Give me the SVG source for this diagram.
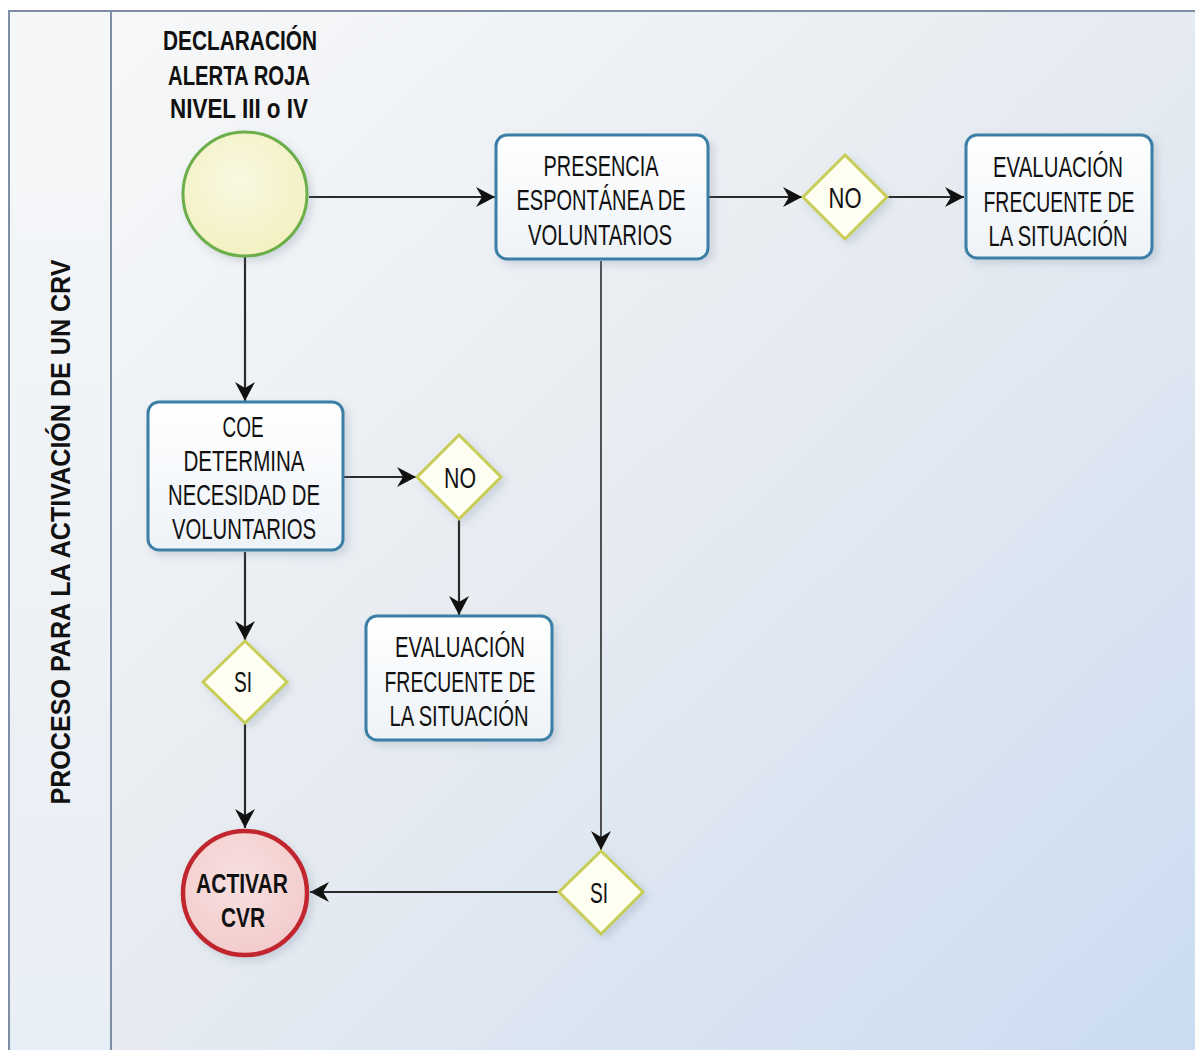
<svg xmlns="http://www.w3.org/2000/svg" width="1195" height="1050" viewBox="0 0 1195 1050">
<defs>
<linearGradient id="bg" x1="0" y1="0" x2="1" y2="1">
<stop offset="0" stop-color="#f7f8f9"/>
<stop offset="0.5" stop-color="#e6ebf1"/>
<stop offset="1" stop-color="#cbdcf2"/>
</linearGradient>
<linearGradient id="lane" x1="0" y1="0" x2="0" y2="1">
<stop offset="0" stop-color="#f6f7f8"/>
<stop offset="1" stop-color="#e8eef5"/>
</linearGradient>
<linearGradient id="box" x1="0" y1="0" x2="0" y2="1">
<stop offset="0" stop-color="#ffffff"/>
<stop offset="1" stop-color="#eef3f8"/>
</linearGradient>
<radialGradient id="start" cx="0.45" cy="0.4" r="0.6">
<stop offset="0" stop-color="#f9f8e2"/>
<stop offset="1" stop-color="#f3f1c2"/>
</radialGradient>
<radialGradient id="end" cx="0.45" cy="0.4" r="0.6">
<stop offset="0" stop-color="#f8e0e0"/>
<stop offset="1" stop-color="#f3cccc"/>
</radialGradient>
<filter id="sh" x="-20%" y="-20%" width="150%" height="150%">
<feDropShadow dx="4" dy="4" stdDeviation="4" flood-color="#6b7c95" flood-opacity="0.25"/>
</filter>
<marker id="arr" markerUnits="userSpaceOnUse" markerWidth="22" markerHeight="22" refX="19" refY="11" orient="auto">
<path d="M0,1 L19,11 L0,21 L6,11 Z" fill="#111"/>
</marker>
<style>
.lane{fill:none;stroke:#7d8ea6;stroke-width:2}
.task{fill:url(#box);stroke:#3a7fa6;stroke-width:3}
.gw{fill:#fffef2;stroke:#c8cd55;stroke-width:3}
.t{font-family:"Liberation Sans",Arial,sans-serif;font-size:30px;fill:#111;text-anchor:middle}
.b{font-family:"Liberation Sans",Arial,sans-serif;font-size:27px;font-weight:bold;fill:#111;text-anchor:middle}
.c{fill:none;stroke:#2a2a2a;stroke-width:2.2;marker-end:url(#arr)}
</style>
</defs>
<rect x="0" y="0" width="1195" height="1050" fill="#ffffff"/>
<rect x="111" y="11" width="1084" height="1039" fill="url(#bg)"/>
<rect x="9" y="11" width="102" height="1039" fill="url(#lane)"/>
<g id="lane-frame">
<path class="lane" d="M9,1050 L9,11 L1195,11"/>
<line class="lane" x1="111" y1="11" x2="111" y2="1050"/>
<text class="b" transform="translate(70,532) rotate(-90)" textLength="545" lengthAdjust="spacingAndGlyphs">PROCESO PARA LA ACTIVACIÓN DE UN CRV</text>
</g>
<g id="connectors">
<line class="c" x1="309" y1="197" x2="495" y2="197"/>
<line class="c" x1="709" y1="197" x2="802" y2="197"/>
<line class="c" x1="888" y1="197" x2="964" y2="197"/>
<line class="c" x1="245" y1="257" x2="245" y2="401"/>
<line class="c" x1="344" y1="477" x2="416" y2="477"/>
<line class="c" x1="459" y1="520" x2="459" y2="615"/>
<line class="c" x1="245" y1="552" x2="245" y2="640"/>
<line class="c" x1="245" y1="724" x2="245" y2="828"/>
<line class="c" style="stroke-width:1.6" x1="601" y1="261" x2="601" y2="850"/>
<line class="c" x1="558" y1="892" x2="310" y2="892"/>
</g>
<g id="start-event">
<circle cx="245" cy="194" r="62" fill="url(#start)" stroke="#6cae48" stroke-width="3" filter="url(#sh)"/>
<text class="b" x="240" y="50" textLength="154" lengthAdjust="spacingAndGlyphs">DECLARACIÓN</text>
<text class="b" x="239" y="85" textLength="142" lengthAdjust="spacingAndGlyphs">ALERTA ROJA</text>
<text class="b" x="239" y="118" textLength="138" lengthAdjust="spacingAndGlyphs">NIVEL III o IV</text>
</g>
<g id="presencia">
<rect class="task" x="496" y="135" width="212" height="124" rx="11" filter="url(#sh)"/>
<text class="t" x="601" y="176" textLength="115" lengthAdjust="spacingAndGlyphs">PRESENCIA</text>
<text class="t" x="601" y="210" textLength="169" lengthAdjust="spacingAndGlyphs">ESPONTÁNEA DE</text>
<text class="t" x="600" y="245" textLength="144" lengthAdjust="spacingAndGlyphs">VOLUNTARIOS</text>
</g>
<g id="gw-no-1">
<polygon class="gw" points="845,155 887,197 845,239 803,197" filter="url(#sh)"/>
<text class="t" x="845" y="208" textLength="33" lengthAdjust="spacingAndGlyphs">NO</text>
</g>
<g id="eval-1">
<rect class="task" x="966" y="135" width="186" height="123" rx="11" filter="url(#sh)"/>
<text class="t" x="1058" y="177" textLength="130" lengthAdjust="spacingAndGlyphs">EVALUACIÓN</text>
<text class="t" x="1059" y="212" textLength="151" lengthAdjust="spacingAndGlyphs">FRECUENTE DE</text>
<text class="t" x="1058" y="246" textLength="139" lengthAdjust="spacingAndGlyphs">LA SITUACIÓN</text>
</g>
<g id="coe">
<rect class="task" x="148" y="402" width="195" height="148" rx="11" filter="url(#sh)"/>
<text class="t" x="243" y="437" textLength="41" lengthAdjust="spacingAndGlyphs">COE</text>
<text class="t" x="244" y="471" textLength="121" lengthAdjust="spacingAndGlyphs">DETERMINA</text>
<text class="t" x="244" y="505" textLength="152" lengthAdjust="spacingAndGlyphs">NECESIDAD DE</text>
<text class="t" x="244" y="539" textLength="144" lengthAdjust="spacingAndGlyphs">VOLUNTARIOS</text>
</g>
<g id="gw-no-2">
<polygon class="gw" points="459,435 501,477 459,519 417,477" filter="url(#sh)"/>
<text class="t" x="460" y="488" textLength="32" lengthAdjust="spacingAndGlyphs">NO</text>
</g>
<g id="eval-2">
<rect class="task" x="366" y="616" width="186" height="124" rx="11" filter="url(#sh)"/>
<text class="t" x="460" y="657" textLength="130" lengthAdjust="spacingAndGlyphs">EVALUACIÓN</text>
<text class="t" x="460" y="692" textLength="151" lengthAdjust="spacingAndGlyphs">FRECUENTE DE</text>
<text class="t" x="459" y="726" textLength="139" lengthAdjust="spacingAndGlyphs">LA SITUACIÓN</text>
</g>
<g id="gw-si-1">
<polygon class="gw" points="245,641 287,682 245,723 203,682" filter="url(#sh)"/>
<text class="t" x="243" y="692" textLength="18" lengthAdjust="spacingAndGlyphs">SI</text>
</g>
<g id="gw-si-2">
<polygon class="gw" points="601,851 643,892 601,934 559,892" filter="url(#sh)"/>
<text class="t" x="599" y="903" textLength="18" lengthAdjust="spacingAndGlyphs">SI</text>
</g>
<g id="activar">
<circle cx="245" cy="893" r="62" fill="url(#end)" stroke="#c1272d" stroke-width="4.5" filter="url(#sh)"/>
<text class="b" x="242" y="893" textLength="92" lengthAdjust="spacingAndGlyphs">ACTIVAR</text>
<text class="b" x="243" y="927" textLength="44" lengthAdjust="spacingAndGlyphs">CVR</text>
</g>
</svg>
